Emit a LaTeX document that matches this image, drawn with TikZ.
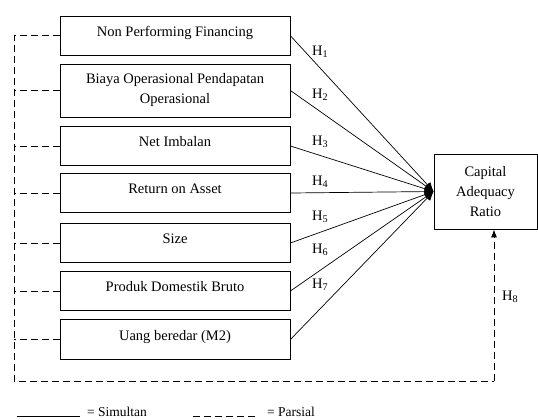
\documentclass[tikz,border=0pt]{standalone}
\usepackage{fontspec}
\setmainfont{Liberation Serif}
\usetikzlibrary{arrows.meta}
\tikzset{
  box/.style={draw, line width=0.8bp, minimum width=230bp, inner xsep=2bp, inner ysep=0pt, align=center},
  var/.style={box, text height=20.5bp, text depth=19bp},
  hyp/.style={anchor=west, inner sep=0pt},
  simultan/.style={line width=0.7bp, -{Latex[length=9bp,width=8bp]}},
  parsial/.style={line width=0.8bp, dash pattern=on 7bp off 4bp},
}
\begin{document}
\begin{tikzpicture}[x=1bp, y=-1bp, font=\fontsize{14.5bp}{20bp}\selectfont]
  \useasboundingbox (0,0) rectangle (538,419);
  \draw
    (175,35.75) node[var] (npf){Non Performing Financing}
    (175,90.5) node[box, minimum height=53bp] (bopo){Biaya Operasional Pendapatan\\Operasional}
    (175,146) node[var] (ni){Net Imbalan}
    (175,193) node[var] (roa){Return on Asset}
    (175,243) node[var] (size){Size}
    (175,291) node[var] (pdb){Produk Domestik Bruto}
    (175,339.5) node[var] (m2){Uang beredar (M2)}
    (485.5,191.5) node[box, minimum width=103bp, minimum height=75bp] (car){Capital\\Adequacy\\Ratio};
  \draw
    (312,52) node[hyp] (h1){H\textsubscript{1}}
    (312,95) node[hyp] (h2){H\textsubscript{2}}
    (312,142) node[hyp] (h3){H\textsubscript{3}}
    (312,182) node[hyp] (h4){H\textsubscript{4}}
    (312,217) node[hyp] (h5){H\textsubscript{5}}
    (312,250) node[hyp] (h6){H\textsubscript{6}}
    (312,285) node[hyp] (h7){H\textsubscript{7}}
    (502,297) node[hyp] (h8){H\textsubscript{8}};
  \begin{scope}[simultan]
    \draw (npf.east) to (car.west);
    \draw (bopo.east) to (car.west);
    \draw (ni.east) to (car.west);
    \draw (roa.east) to (car.west);
    \draw (size.east) to (car.west);
    \draw (pdb.east) to (car.west);
    \draw (m2.east) to (car.west);
  \end{scope}
  \coordinate (bl) at (14,381);
  \coordinate (br) at (494,381);
  \begin{scope}[parsial]
    \draw (npf.west) -| (bl) -- (br);
    \draw[-{Latex[length=8bp,width=6bp]}] (br) -- (br |- car.south);
    \draw (bopo.west) -- (bopo.west -| bl);
    \draw (ni.west) -- (ni.west -| bl);
    \draw (roa.west) -- (roa.west -| bl);
    \draw (size.west) -- (size.west -| bl);
    \draw (pdb.west) -- (pdb.west -| bl);
    \draw (m2.west) -- (m2.west -| bl);
  \end{scope}
  \coordinate (s0) at (17,416);
  \coordinate (s1) at (80,416);
  \coordinate (p0) at (193,416);
  \coordinate (p1) at (255,416);
  \draw[line width=0.8bp] (s0) -- (s1);
  \draw[parsial] (p0) -- (p1);
  \draw[font=\fontsize{13.5bp}{16bp}\selectfont]
    (87,416) node[anchor=base west, inner sep=0pt] (simul){= Simultan}
    (267,416) node[anchor=base west, inner sep=0pt] (pars){= Parsial};
\end{tikzpicture}
\end{document}
